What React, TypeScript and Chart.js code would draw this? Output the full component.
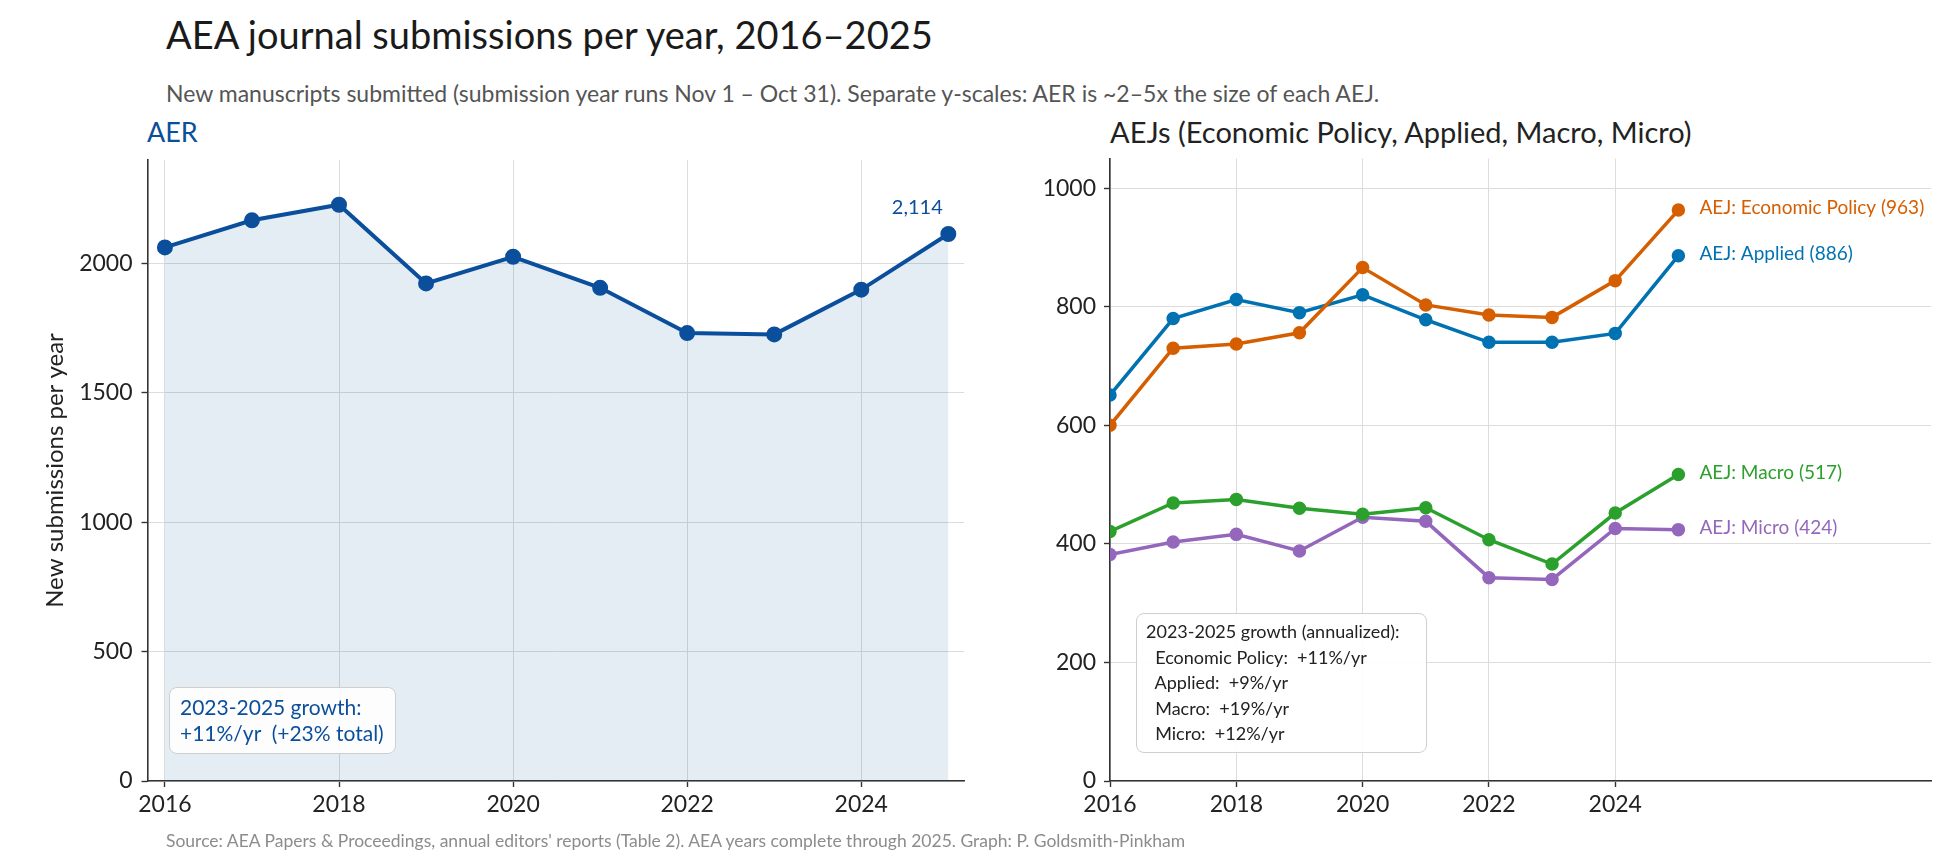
import { useEffect, useRef } from "react";
import { Chart, registerables } from "chart.js";

Chart.register(...registerables);

const FONT = "Lato, 'Open Sans', sans-serif";

// submission years (Nov 1 - Oct 31)
const years = [2016, 2017, 2018, 2019, 2020, 2021, 2022, 2023, 2024, 2025];

const aerSubmissions = [2062, 2167, 2227, 1923, 2026, 1906, 1731, 1726, 1899, 2114];

const aejPolicy = [600, 730, 737, 756, 866, 803, 786, 782, 844, 963];
const aejApplied = [651, 780, 812, 790, 820, 778, 740, 740, 755, 886];
const aejMacro = [421, 469, 475, 460, 450, 461, 407, 366, 452, 517];
const aejMicro = [382, 403, 416, 388, 445, 438, 343, 340, 426, 424];

const aejNames = ["AEJ: Economic Policy", "AEJ: Applied", "AEJ: Macro", "AEJ: Micro"];
const aejColors = ["#d55e00", "#0072b2", "#2ca02c", "#9467bd"];

// tick values
const yearTicks = [2016, 2018, 2020, 2022, 2024];
const aerTicks = [0, 500, 1000, 1500, 2000];
const aejTicks = [0, 200, 400, 600, 800, 1000];

const AER_BLUE = "#0b4f9c";

const leftGrowthLines = ["2023-2025 growth:", "+11%/yr  (+23% total)"];
const rightGrowthLines = [
  "2023-2025 growth (annualized):",
  "  Economic Policy:  +11%/yr",
  "  Applied:  +9%/yr",
  "  Macro:  +19%/yr",
  "  Micro:  +12%/yr",
];

const toPoints = (vals: number[]) => vals.map((v, i) => ({ x: years[i], y: v }));

// fixed axis box so the plot area lands where the reference puts it
function fixWidth(w: number) {
  return (s: any) => {
    s.width = w;
    s.paddingTop = 0;
    s.paddingBottom = 0;
  };
}
function fixHeight(h: number) {
  return (s: any) => {
    s.height = h;
    s.paddingLeft = 0;
    s.paddingRight = 0;
  };
}

function axisStyle(tickValues: number[], extra: any) {
  return {
    type: "linear",
    border: { display: true, color: "#333", width: 1.6 },
    grid: {
      color: "#dcdcdc",
      lineWidth: 1,
      drawTicks: true,
      tickLength: 6,
      tickColor: "#333",
      tickWidth: 1.4,
    },
    afterBuildTicks: (s: any) => {
      s.ticks = tickValues.map((v) => ({ value: v }));
    },
    ...extra,
  };
}

const tickFont = { family: FONT, size: 23 };

function AERChart() {
  const ref = useRef<HTMLCanvasElement>(null);
  const chart = useRef<Chart | null>(null);

  useEffect(() => {
    if (!ref.current) return;
    if (chart.current) chart.current.destroy();

    const lastLabel = {
      id: "lastLabel",
      afterDatasetsDraw(c: any) {
        const { ctx, scales } = c;
        const i = aerSubmissions.length - 1;
        const x = scales.x.getPixelForValue(years[i]) - 31;
        const y = scales.y.getPixelForValue(aerSubmissions[i]) - 26;
        ctx.save();
        ctx.font = `20px ${FONT}`;
        ctx.fillStyle = AER_BLUE;
        ctx.textAlign = "center";
        ctx.textBaseline = "middle";
        ctx.fillText(aerSubmissions[i].toLocaleString("en-US"), x, y);
        ctx.restore();
      },
    };

    chart.current = new Chart(ref.current, {
      type: "line",
      data: {
        datasets: [
          {
            data: toPoints(aerSubmissions),
            borderColor: AER_BLUE,
            backgroundColor: "rgba(11,79,156,0.11)",
            pointBackgroundColor: AER_BLUE,
            pointBorderColor: AER_BLUE,
            borderWidth: 4,
            pointRadius: 6,
            fill: "origin",
            tension: 0,
          },
        ],
      },
      options: {
        responsive: true,
        maintainAspectRatio: false,
        animation: false,
        layout: { padding: { top: 6, right: 36, left: 0, bottom: 0 } },
        plugins: { legend: { display: false }, tooltip: { enabled: false } },
        scales: {
          x: axisStyle(yearTicks, {
            min: 2015.8,
            max: 2025.18,
            afterFit: fixHeight(69),
            ticks: {
              padding: 4,
              color: "#222",
              font: tickFont,
              callback: (v: any) => String(v),
            },
          }),
          y: axisStyle(aerTicks, {
            min: 0,
            max: 2400,
            afterFit: fixWidth(147.5),
            title: {
              display: true,
              text: "New submissions per year",
              color: "#222",
              font: { family: FONT, size: 24 },
              padding: { top: 41, bottom: 0 },
            },
            ticks: {
              padding: 9,
              color: "#222",
              font: tickFont,
              callback: (v: any) => String(v),
            },
          }),
        },
      } as any,
      plugins: [lastLabel],
    });

    return () => {
      if (chart.current) chart.current.destroy();
      chart.current = null;
    };
  }, []);

  return (
    <div style={{ position: "absolute", left: 0, top: 150, width: 1000, height: 700 }}>
      <canvas ref={ref}></canvas>
    </div>
  );
}

function AEJChart() {
  const ref = useRef<HTMLCanvasElement>(null);
  const chart = useRef<Chart | null>(null);

  useEffect(() => {
    if (!ref.current) return;
    if (chart.current) chart.current.destroy();

    const series = [aejPolicy, aejApplied, aejMacro, aejMicro];

    const endLabels = {
      id: "endLabels",
      afterDatasetsDraw(c: any) {
        const { ctx, scales } = c;
        ctx.save();
        ctx.font = `19px ${FONT}`;
        ctx.textAlign = "left";
        ctx.textBaseline = "middle";
        series.forEach((vals, k) => {
          const i = vals.length - 1;
          const x = scales.x.getPixelForValue(years[i]) + 21;
          const y = scales.y.getPixelForValue(vals[i]) - 2;
          ctx.fillStyle = aejColors[k];
          ctx.fillText(`${aejNames[k]} (${vals[i]})`, x, y);
        });
        ctx.restore();
      },
    };

    chart.current = new Chart(ref.current, {
      type: "line",
      data: {
        datasets: series.map((vals, k) => ({
          label: aejNames[k],
          data: toPoints(vals),
          borderColor: aejColors[k],
          backgroundColor: aejColors[k],
          pointBackgroundColor: aejColors[k],
          pointBorderColor: aejColors[k],
          borderWidth: 3.5,
          pointRadius: 5,
          fill: false,
          tension: 0,
        })),
      },
      options: {
        responsive: true,
        maintainAspectRatio: false,
        animation: false,
        layout: { padding: { top: 6, right: 29, left: 0, bottom: 0 } },
        plugins: { legend: { display: false }, tooltip: { enabled: false } },
        scales: {
          x: axisStyle(yearTicks, {
            min: 2016,
            max: 2029,
            afterFit: fixHeight(69),
            ticks: {
              padding: 4,
              color: "#222",
              font: tickFont,
              callback: (v: any) => String(v),
            },
          }),
          y: axisStyle(aejTicks, {
            min: 0,
            max: 1050,
            afterFit: fixWidth(110),
            ticks: {
              padding: 8,
              color: "#222",
              font: tickFont,
              callback: (v: any) => String(v),
            },
          }),
        },
      } as any,
      plugins: [endLabels],
    });

    return () => {
      if (chart.current) chart.current.destroy();
      chart.current = null;
    };
  }, []);

  return (
    <div style={{ position: "absolute", left: 1000, top: 150, width: 960, height: 700 }}>
      <canvas ref={ref}></canvas>
    </div>
  );
}

function Text({ x, y, size, color, children, lh }: any) {
  const lineH = lh ?? Math.round(size * 1.3);
  return (
    <div
      style={{
        position: "absolute",
        left: x,
        top: y - lineH / 2,
        fontSize: size,
        lineHeight: `${lineH}px`,
        color,
        fontFamily: FONT,
        whiteSpace: "nowrap",
      }}
    >
      {children}
    </div>
  );
}

function Box({ x, y, w, h, size, lh, padTop, padLeft, color, lines }: any) {
  return (
    <div
      style={{
        position: "absolute",
        left: x,
        top: y,
        width: w,
        height: h,
        boxSizing: "border-box",
        border: "1.5px solid #cfcfcf",
        borderRadius: 8,
        background: "rgba(255,255,255,0.9)",
        paddingTop: padTop,
        paddingLeft: padLeft,
        fontFamily: FONT,
        fontSize: size,
        lineHeight: `${lh}px`,
        color,
        whiteSpace: "pre",
      }}
    >
      {lines.map((l: string, i: number) => (
        <div key={i}>{l}</div>
      ))}
    </div>
  );
}

export default function App() {
  return (
    <div
      style={{
        position: "absolute",
        left: 0,
        top: 0,
        width: 1960,
        height: 868,
        background: "#fff",
        overflow: "hidden",
      }}
    >
      <Text x={166} y={34} size={38} color="#1a1a1a">
        AEA journal submissions per year, 2016–2025
      </Text>
      <Text x={166} y={93} size={23} color="#555">
        New manuscripts submitted (submission year runs Nov 1 – Oct 31). Separate y-scales: AER is ~2–5x the size of each AEJ.
      </Text>
      <Text x={147} y={131} size={27} color={AER_BLUE}>
        AER
      </Text>
      <Text x={1110} y={132} size={29} color="#222">
        AEJs (Economic Policy, Applied, Macro, Micro)
      </Text>

      <AERChart />
      <AEJChart />

      <Box
        x={169}
        y={687}
        w={227}
        h={67}
        size={21}
        lh={26}
        padTop={6}
        padLeft={10}
        color={AER_BLUE}
        lines={leftGrowthLines}
      />
      <Box
        x={1136}
        y={613}
        w={291}
        h={140}
        size={18}
        lh={25.6}
        padTop={5}
        padLeft={9}
        color="#222"
        lines={rightGrowthLines}
      />

      <Text x={166} y={840} size={17.5} color="#8c8c8c">
        Source: AEA Papers &amp; Proceedings, annual editors' reports (Table 2). AEA years complete through 2025. Graph: P. Goldsmith-Pinkham
      </Text>
    </div>
  );
}
